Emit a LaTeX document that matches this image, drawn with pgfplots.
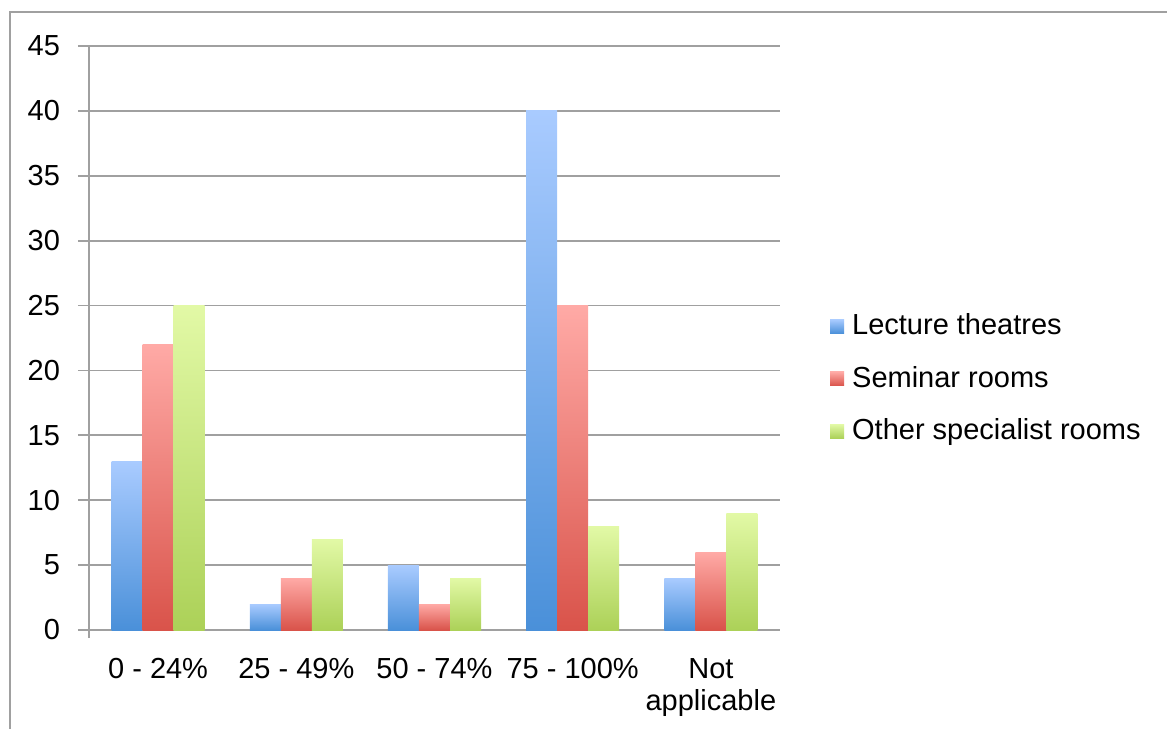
\documentclass[border=0pt]{standalone}
\usepackage{pgfplots}
\pgfplotsset{compat=1.18}
\usepackage{fontspec}
\setmainfont{Liberation Sans}

\definecolor{gridgray}{HTML}{A0A0A0}
\definecolor{bluetop}{HTML}{A9CBFF}
\definecolor{bluebot}{HTML}{4A90D9}
\definecolor{redtop}{HTML}{FFAAA6}
\definecolor{redbot}{HTML}{D9534A}
\definecolor{greentop}{HTML}{E2F9A6}
\definecolor{greenbot}{HTML}{ACD158}

\pgfplotsset{
  lt/.style={ybar, bar width=15.5pt, bar shift=-15.5pt, draw=none, top color=bluetop, bottom color=bluebot, forget plot},
  sr/.style={ybar, bar width=15.5pt, bar shift=0pt, draw=none, top color=redtop, bottom color=redbot, forget plot},
  os/.style={ybar, bar width=15.5pt, bar shift=15.5pt, draw=none, top color=greentop, bottom color=greenbot, forget plot},
}

\begin{document}
\fontsize{14.5pt}{16pt}\selectfont
\begin{tikzpicture}
\useasboundingbox (0,0) rectangle (583.5pt,364.5pt);
% outer chart frame
\draw[gridgray, line width=0.9pt] (5pt,0) -- (5pt,358.5pt) -- (590pt,358.5pt);

\begin{axis}[
    at={(44.5pt,49.5pt)}, anchor=south west,
    scale only axis,
    width=345.5pt, height=292pt,
    xmin=-0.5, xmax=4.5,
    ymin=0, ymax=45,
    ytick={0,5,...,45},
    xtick={0,1,2,3,4},
    xticklabels={0 - 24\%, 25 - 49\%, 50 - 74\%, 75 - 100\%, Not\\applicable},
    minor xtick={-0.5,0.5,1.5,2.5,3.5,4.5},
    xtick style={draw=none},
    minor x tick style={gridgray, line width=0.9pt},
    y tick style={gridgray, line width=0.9pt},
    major tick length=5.5pt, minor tick length=4pt,
    tick align=outside,
    axis x line*=bottom, axis y line*=left,
    axis line style={gridgray, line width=0.9pt, -},
    y axis line style={shorten <=-4pt},
    ymajorgrids, grid style={gridgray, line width=0.9pt},
    /pgf/number format/assume math mode=true,
    tick label style={font=\fontsize{14.5pt}{16pt}\selectfont},
    yticklabel style={xshift=-4pt},
    xticklabel style={align=center, yshift=-3.5pt},
    legend style={at={(1.072,0.549)}, anchor=north west, draw=none,
        font=\fontsize{14.5pt}{16pt}\selectfont, row sep=9.5pt, inner sep=0pt},
    legend cell align=left,
    legend image code/.code={\path[#1, draw=none] (0pt,-3.5pt) rectangle (7pt,3.5pt); \path[draw=none, fill=none, shading=none] (0pt,0pt) -- (9pt,0pt);},
]
% Lecture theatres
\addplot[lt] coordinates {(0,13)};
\addplot[lt] coordinates {(1,2)};
\addplot[lt] coordinates {(2,5)};
\addplot[lt] coordinates {(3,40)};
\addplot[lt] coordinates {(4,4)};
% Seminar rooms
\addplot[sr] coordinates {(0,22)};
\addplot[sr] coordinates {(1,4)};
\addplot[sr] coordinates {(2,2)};
\addplot[sr] coordinates {(3,25)};
\addplot[sr] coordinates {(4,6)};
% Other specialist rooms
\addplot[os] coordinates {(0,25)};
\addplot[os] coordinates {(1,7)};
\addplot[os] coordinates {(2,4)};
\addplot[os] coordinates {(3,8)};
\addplot[os] coordinates {(4,9)};

\addlegendimage{top color=bluetop, bottom color=bluebot}
\addlegendentry{Lecture theatres}
\addlegendimage{top color=redtop, bottom color=redbot}
\addlegendentry{Seminar rooms}
\addlegendimage{top color=greentop, bottom color=greenbot}
\addlegendentry{Other specialist rooms}
\end{axis}
\end{tikzpicture}
\end{document}
